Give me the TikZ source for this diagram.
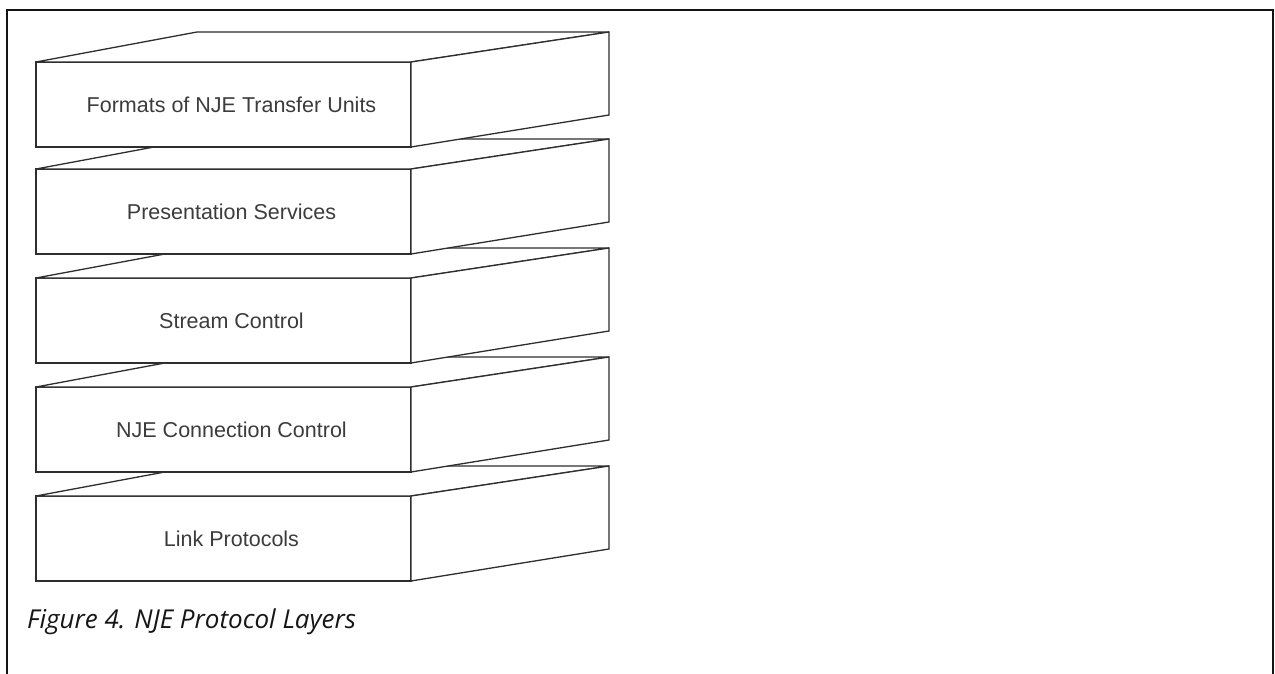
\documentclass[tikz,border=0pt]{standalone}
\usepackage{fontspec}
\setmainfont{Liberation Sans}
\newfontfamily\capfont{Open Sans}
\usepackage{tikz}
\usetikzlibrary{positioning}

\definecolor{edgegray}{HTML}{2E2E2E}
\definecolor{labelgray}{HTML}{3C3C3C}
\definecolor{capblack}{HTML}{161616}

\tikzset{
  face/.style={draw=edgegray, line width=1.3pt, fill=white, inner sep=0pt, outer sep=0pt,
    minimum width=375pt, minimum height=85pt},
  side/.style={draw=edgegray, line width=1.3pt, fill=white, line join=miter},
  layertext/.style={text=labelgray, inner sep=0pt, font=\fontsize{21.5}{25}\selectfont},
  captext/.style={text=capblack, inner sep=0pt, anchor=base west, font=\capfont\itshape\fontsize{26}{30}\selectfont}
}

\begin{document}
\begin{tikzpicture}[x=1pt,y=-1pt]
\useasboundingbox (0,0) rectangle (1275,674);
\draw[line width=2.6pt, black!92] (7,674) -- (7,10) -- (1273,10) -- (1273,674);

% bottom layer first, so that each upper layer hides the one below
\node[face] (f5) at (223.5,538.5) {};
\filldraw[side] (f5.north west) -- ++(161,-30) -- ++(412,0) -- (f5.north east) -- cycle;
\filldraw[side] (f5.north east) -- ++(198,-30) -- ++(0,83) -- (f5.south east) -- cycle;
\node[layertext] (t5) at ([xshift=8pt]f5.center) {Link Protocols};

\node[face] (f4) at (223.5,429.5) {};
\filldraw[side] (f4.north west) -- ++(161,-30) -- ++(412,0) -- (f4.north east) -- cycle;
\filldraw[side] (f4.north east) -- ++(198,-30) -- ++(0,83) -- (f4.south east) -- cycle;
\node[layertext] (t4) at ([xshift=8pt]f4.center) {NJE Connection Control};

\node[face] (f3) at (223.5,320.5) {};
\filldraw[side] (f3.north west) -- ++(161,-30) -- ++(412,0) -- (f3.north east) -- cycle;
\filldraw[side] (f3.north east) -- ++(198,-30) -- ++(0,83) -- (f3.south east) -- cycle;
\node[layertext] (t3) at ([xshift=8pt]f3.center) {Stream Control};

\node[face] (f2) at (223.5,211.5) {};
\filldraw[side] (f2.north west) -- ++(161,-30) -- ++(412,0) -- (f2.north east) -- cycle;
\filldraw[side] (f2.north east) -- ++(198,-30) -- ++(0,83) -- (f2.south east) -- cycle;
\node[layertext] (t2) at ([xshift=8pt]f2.center) {Presentation Services};

\node[face] (f1) at (223.5,104.5) {};
\filldraw[side] (f1.north west) -- ++(161,-30) -- ++(412,0) -- (f1.north east) -- cycle;
\filldraw[side] (f1.north east) -- ++(198,-30) -- ++(0,83) -- (f1.south east) -- cycle;
\node[layertext] (t1) at ([xshift=8pt]f1.center) {Formats of NJE Transfer Units};

\node[captext] (cap) at (27,628) {Figure 4. NJE Protocol Layers};
\end{tikzpicture}
\end{document}
